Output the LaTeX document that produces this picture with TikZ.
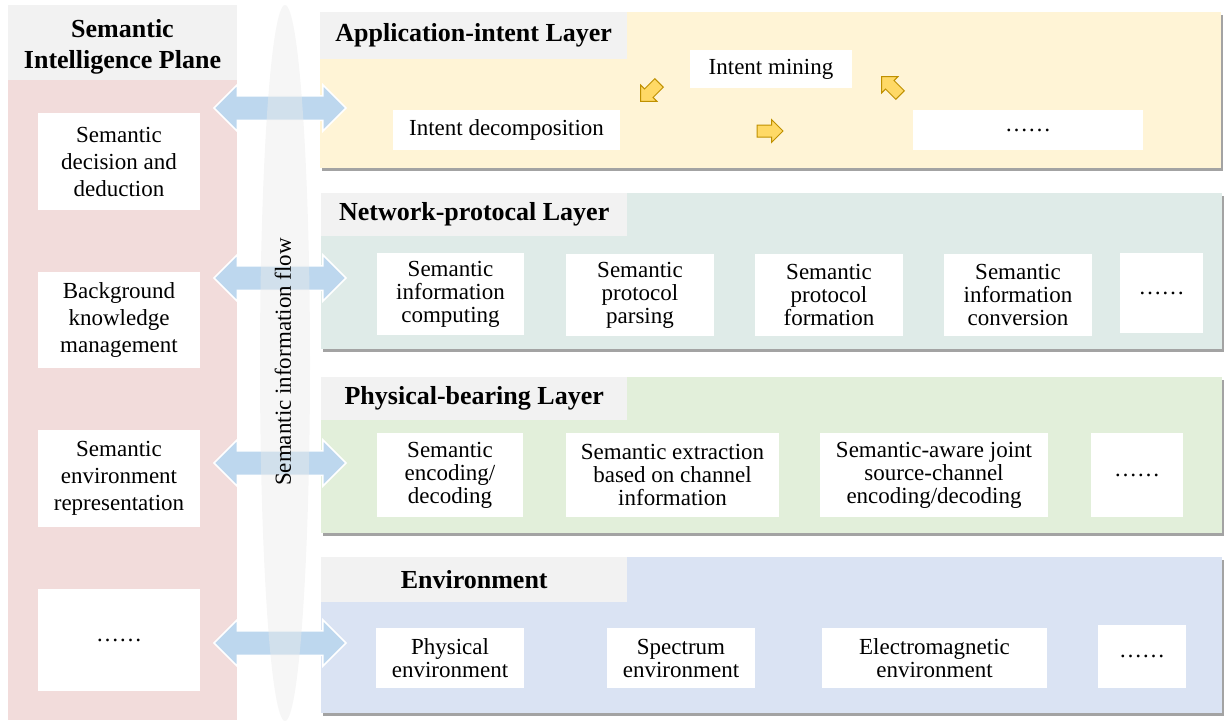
\documentclass[tikz,border=0pt]{standalone}
\usepackage{fontspec}
\setmainfont{Liberation Serif}
\usetikzlibrary{shapes.geometric,shapes.arrows,shadows}
\definecolor{hdrgray}{HTML}{F2F2F2}
\definecolor{pinkcol}{HTML}{F2DCDB}
\definecolor{appcol}{HTML}{FFF4D6}
\definecolor{netcol}{HTML}{DFEBE8}
\definecolor{physcol}{HTML}{E2EFDA}
\definecolor{envcol}{HTML}{DAE3F3}
\definecolor{arrowblue}{HTML}{BDD7EE}
\definecolor{arrowyellow}{HTML}{FFD966}
\definecolor{arrowgold}{HTML}{BF9000}
\definecolor{ellgray}{HTML}{EBEBEB}
\begin{document}
\begin{tikzpicture}[x=1pt,y=-1pt,
  plane/.style={anchor=north west, inner sep=0, draw=none},
  layer/.style={anchor=north west, inner sep=0, minimum width=901pt, minimum height=156pt,
    drop shadow={shadow xshift=1.5pt, shadow yshift=-3pt, opacity=0.45, fill=black!80}},
  hdr/.style={anchor=north west, fill=hdrgray, inner sep=0, align=center,
    font=\fontsize{26}{31}\selectfont\bfseries},
  lbox/.style={fill=white, inner sep=0, align=center, minimum width=162pt,
    font=\fontsize{23}{27}\selectfont},
  ibox/.style={fill=white, inner sep=0, align=center, font=\fontsize{23}{23}\selectfont},
  flowarrow/.style={double arrow, fill=arrowblue, draw=white, line width=1.5pt,
    minimum width=45pt, minimum height=132pt, double arrow head extend=11pt, inner sep=11.5pt},
  yarrow/.style={single arrow, fill=arrowyellow, draw=arrowgold, line width=1pt,
    minimum width=22pt, minimum height=26pt, single arrow head extend=5.5pt, inner sep=5.5pt}
]
\useasboundingbox (0,0) rectangle (1225,726);

% left plane
\node[plane, fill=pinkcol, minimum width=229pt, minimum height=715pt] (sip) at (8,5) {};
\node[hdr, minimum width=229pt, minimum height=75pt] (siph) at (8,5) {};
\node[align=center, inner sep=0, font=\fontsize{26}{31}\selectfont\bfseries] (siptitle) at (122.5,47) {Semantic\\Intelligence Plane};
\node[lbox, minimum height=97pt] (l1) at (119,161.5) {Semantic\\decision and\\deduction};
\node[lbox, minimum height=96pt] (l2) at (119,320) {Background\\knowledge\\management};
\node[lbox, minimum height=97pt] (l3) at (119,478.5) {Semantic\\environment\\representation};
\node[lbox, minimum height=102pt] (l4) at (119,640) {……};

% layers
\node[layer, fill=appcol] (app) at (320,12) {};
\node[hdr, minimum width=307pt, minimum height=47pt] (apph) at (app.north west) {Application-intent Layer};
\node[layer, fill=netcol] (net) at (321,193) {};
\node[hdr, minimum width=306pt, minimum height=43pt] (neth) at (net.north west) {Network-protocal Layer};
\node[layer, fill=physcol] (phys) at (321,377) {};
\node[hdr, minimum width=306pt, minimum height=43pt] (physh) at (phys.north west) {Physical-bearing Layer};
\node[layer, fill=envcol] (env) at (321,557) {};
\node[hdr, minimum width=306pt, minimum height=45pt] (envh) at (env.north west) {Environment};

% application layer content
\node[ibox, minimum width=162pt, minimum height=38pt] (mine) at (771,69) {Intent mining};
\node[ibox, minimum width=227pt, minimum height=40pt] (decomp) at (506.5,130) {Intent decomposition};
\node[ibox, minimum width=230pt, minimum height=40pt] (adots) at (1028,130) {……};
\node[yarrow, rotate=225] (ya1) at (652,90) {};
\node[yarrow] (ya2) at (767,131) {};
\node[yarrow, rotate=135] (ya3) at (893,88) {};

% network layer content
\node[ibox, minimum width=147pt, minimum height=82pt] (n1) at (450.5,294) {Semantic\\information\\computing};
\node[ibox, minimum width=148pt, minimum height=82pt] (n2) at (640,295) {Semantic\\protocol\\parsing};
\node[ibox, minimum width=148pt, minimum height=82pt] (n3) at (829,295) {Semantic\\protocol\\formation};
\node[ibox, minimum width=148pt, minimum height=82pt] (n4) at (1018,295) {Semantic\\information\\conversion};
\node[ibox, minimum width=83pt, minimum height=80pt] (n5) at (1161.5,293) {……};

% physical layer content
\node[ibox, minimum width=146pt, minimum height=84pt] (p1) at (450,475) {Semantic\\encoding/\\decoding};
\node[ibox, minimum width=213pt, minimum height=84pt] (p2) at (672.5,475) {Semantic extraction\\based on channel\\information};
\node[ibox, minimum width=228pt, minimum height=84pt] (p3) at (934,475) {Semantic-aware joint\\source-channel\\encoding/decoding};
\node[ibox, minimum width=92pt, minimum height=84pt] (p4) at (1137,475) {……};

% environment content
\node[ibox, minimum width=148pt, minimum height=60pt] (e1) at (450,658) {Physical\\environment};
\node[ibox, minimum width=148pt, minimum height=60pt] (e2) at (681,658) {Spectrum\\environment};
\node[ibox, minimum width=225pt, minimum height=60pt] (e3) at (934.5,658) {Electromagnetic\\environment};
\node[ibox, minimum width=88pt, minimum height=63pt] (e4) at (1142,656.5) {……};

% double arrows between plane and layers
\node[flowarrow] (fa1) at (280,108) {};
\node[flowarrow] (fa2) at (280,278) {};
\node[flowarrow] (fa3) at (280,463) {};
\node[flowarrow] (fa4) at (280,643) {};

% semantic information flow ellipse
\node[ellipse, fill=ellgray, fill opacity=0.45, minimum width=50pt, minimum height=716pt, inner sep=0] (flowell) at (285,363) {};
\node[rotate=90, font=\fontsize{23}{23}\selectfont] (flowtxt) at (283,362) {Semantic information flow};
\end{tikzpicture}
\end{document}
